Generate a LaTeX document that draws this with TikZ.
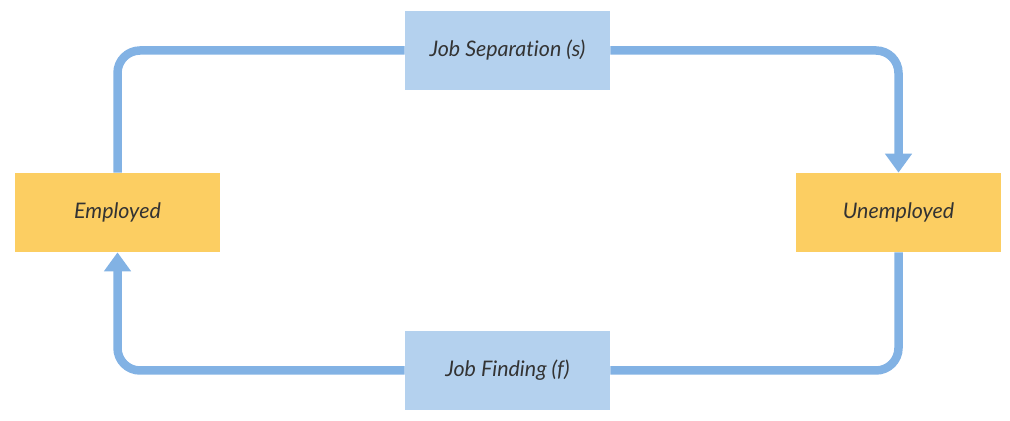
\documentclass[tikz,border=0pt]{standalone}
\usepackage{fontspec}
\setmainfont[Ligatures={NoCommon}]{Lato}
\usetikzlibrary{arrows.meta}
\definecolor{flowblue}{RGB}{130,178,228}
\definecolor{statebox}{RGB}{252,206,98}
\definecolor{ratebox}{RGB}{180,209,238}
\definecolor{labeltext}{RGB}{51,51,51}
\tikzset{
  state/.style={fill=statebox, minimum width=4.1cm, minimum height=1.58cm, inner sep=0pt, font=\itshape\fontsize{12.2}{14}\selectfont, text=labeltext},
  rate/.style={fill=ratebox, minimum width=4.1cm, minimum height=1.58cm, inner sep=0pt, font=\itshape\fontsize{12.2}{14}\selectfont, text=labeltext},
  flow/.style={draw=flowblue, line width=0.17cm, rounded corners=0.45cm},
  flowtip/.style={-{Triangle[width=0.52cm,length=0.38cm]}}
}
\begin{document}
\begin{tikzpicture}[x=0.02cm,y=-0.02cm]
	\useasboundingbox (0,0) rectangle (1010,421);
	\coordinate (e) at (117.5,212.5);
	\coordinate (u) at (898.5,212.5);
	\coordinate (s) at (507.5,50.5);
	\coordinate (f) at (507.5,370.5);
	% states and rates
	\node[state] (empl) at (e) {Employed};
	\node[state] (unempl) at (u) {Unemployed};
	\node[rate] (sep) at (s) {Job Separation (s)};
	\node[rate] (find) at (f) {Job Finding (f)};
	% flows
	\draw[flow] (empl.north) |- (sep.west);
	\draw[flow,flowtip] (sep.east) -| (unempl.north);
	\draw[flow] (unempl.south) |- (find.east);
	\draw[flow,flowtip] (find.west) -| (empl.south);
\end{tikzpicture}
\end{document}
